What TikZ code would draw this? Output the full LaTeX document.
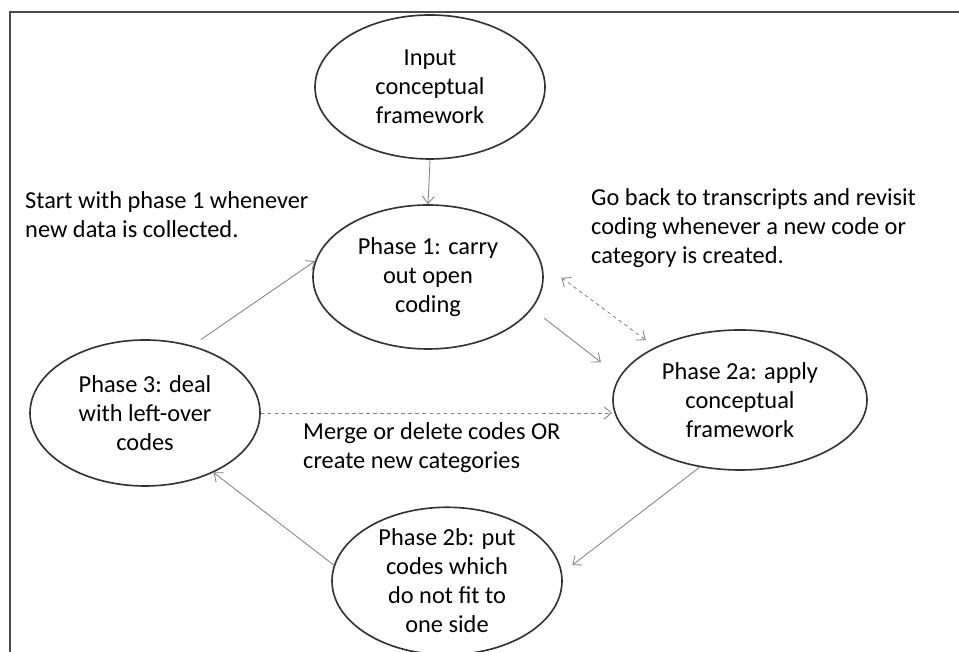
\documentclass[tikz,border=0pt]{standalone}
\usepackage{fontspec}
\setmainfont{Carlito}
\usetikzlibrary{shapes.geometric,arrows.meta}

\begin{document}
\begin{tikzpicture}[scale=0.3,
    phase/.style={ellipse, draw=black!80, line width=1.4pt, inner sep=0pt, align=center,
                  font=\fontsize{20.8}{24.8}\selectfont},
    link/.style={draw=black!50, line width=0.7pt, -{Straight Barb[length=2.2mm,width=3.6mm]}},
    note/.style={anchor=west, align=left, inner sep=0pt, font=\fontsize{20.8}{24.8}\selectfont}]

    \useasboundingbox (0,0) rectangle (95.9,65.2);

    % frame
    \draw[black!70, line width=1.6pt] (1.0,0) -- (1.0,64.0) -- (95.9,64.0);

    % the five phases
    \node[phase, minimum width=6.9cm, minimum height=4.32cm] (input) at (43.0,56.5) {Input\\conceptual\\framework};
    \node[phase, minimum width=6.9cm, minimum height=4.32cm] (ph1) at (42.8,37.5) {Phase 1: carry\\out open\\coding};
    \node[phase, minimum width=7.62cm, minimum height=4.2cm] (ph2a) at (74.0,25.2) {Phase 2a: apply\\conceptual\\framework};
    \node[phase, minimum width=6.9cm, minimum height=4.38cm] (ph3) at (14.5,23.9) {Phase 3: deal\\with left-over\\codes};
    \node[phase, minimum width=6.9cm, minimum height=4.26cm] (ph2b) at (44.7,7.1) {Phase 2b: put\\codes which\\do not fit to\\one side};

    % notes
    \node[note] (startnote) at (2.5,43.7) {Start with phase 1 whenever\\new data is collected.};
    \node[note] (backnote) at (59.1,42.4) {Go back to transcripts and revisit\\coding whenever a new code or\\category is created.};
    \node[note] (mergenote) at (30.3,20.45) {Merge or delete codes OR\\create new categories};

    % connectors
    \draw[link] (input.south) -- (ph1.north);
    \draw[link, shorten <=13pt, shorten >=20pt] (ph1.-17.5) -- (ph2a.169);
    \draw[link, dashed, {Straight Barb[length=2.2mm,width=3.6mm]}-{Straight Barb[length=2.2mm,width=3.6mm]},
          shorten <=21pt, shorten >=10pt] (ph1.7) -- (ph2a.148);
    \draw[link, dashed] (ph3.east) -- (ph3.east -| ph2a.west);
    \draw[link, shorten >=11pt] (ph2a.-121) -- (ph2b.4);
    \draw[link] (ph2b.172) -- (ph3.-41);
    \draw[link, shorten <=9pt] (ph3.55.5) -- (ph1.172);
\end{tikzpicture}
\end{document}
